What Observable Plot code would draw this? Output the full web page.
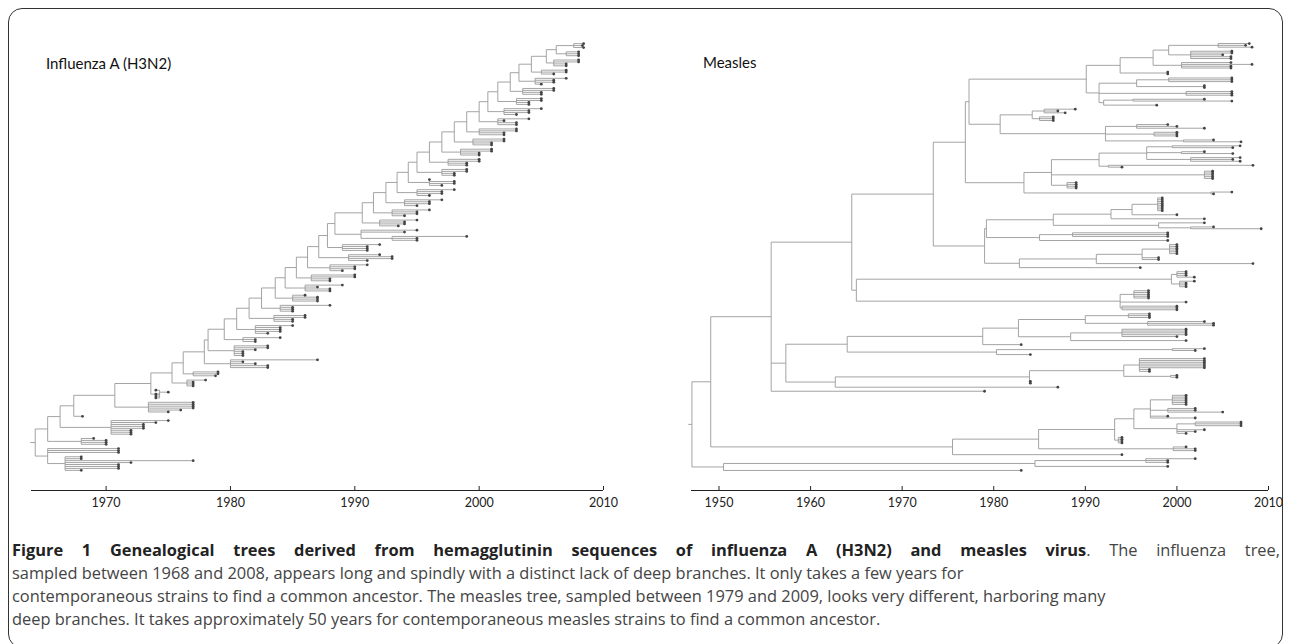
<!DOCTYPE html>
<html>
<head>
<meta charset="utf-8">
<script src="https://cdn.jsdelivr.net/npm/d3@7"></script>
<script src="https://cdn.jsdelivr.net/npm/@observablehq/plot@0.6"></script>
<style>
  body { margin: 0; background: #fff; font-family: "Open Sans", sans-serif; }
  #page { position: relative; width: 1293px; height: 644px; overflow: hidden; }
  #box { position: absolute; left: 8px; top: 8px; width: 1275px; height: 640px; border: 1.5px solid #333; border-radius: 14px; box-sizing: border-box; }
  .panel { position: absolute; top: 0; }
  .title { position: absolute; font-family: Lato, sans-serif; font-size: 15px; color: #111; }
  #caption { position: absolute; left: 12px; top: 538px; width: 1268px; font-size: 16.4px; line-height: 23px; color: #444; }
  #caption div { white-space: nowrap; }
  #caption .first { text-align: justify; text-align-last: justify; white-space: normal; }
  #caption b { color: #222; }
</style>
</head>
<body>
<div id="page">
  <div id="box"></div>
  <div id="left" class="panel" style="left:0"></div>
  <div id="right" class="panel" style="left:650px"></div>
  <div class="title" style="left:46px; top:54px">Influenza A (H3N2)</div>
  <div class="title" style="left:703px; top:53px">Measles</div>
  <div id="caption">
    <div class="first"><b>Figure 1 Genealogical trees derived from hemagglutinin sequences of influenza A (H3N2) and measles virus</b>. The influenza tree,</div>
    <div>sampled between 1968 and 2008, appears long and spindly with a distinct lack of deep branches. It only takes a few years for</div>
    <div>contemporaneous strains to find a common ancestor. The measles tree, sampled between 1979 and 2009, looks very different, harboring many</div>
    <div>deep branches. It takes approximately 50 years for contemporaneous measles strains to find a common ancestor.</div>
  </div>
</div>
<script>
// trees: internal node = [year, ...children], leaf = sampling year

// influenza: trunk node year and the side clade that leaves it
const fluTrunk = [1964.3, 1965.3, 1966.3, 1967.4, 1970.7, 1973.6, 1975.3, 1976.2, 1977.9, 1978.2,
  1979.5, 1980.5, 1981.5, 1982.5, 1983.6, 1984.4, 1985.3, 1986.2, 1987.1, 1987.8,
  1988.4, 1990.6, 1991.5, 1992.5, 1993.4, 1994.3, 1995.0, 1996.0, 1997.0, 1998.0,
  1999.0, 2000.0, 2000.7, 2001.5, 2002.5, 2003.2, 2004.2, 2005.4, 2006.2];
const fluSide = [
  [1965.3, [1966.7, 1968, 1971, 1971, 1971, 1972, 1977, 1968, 1968], 1971, 1971, 1971],
  [1968, 1970, 1970, 1970, 1969],
  [1970.4, 1972, 1972, 1972, 1973, 1973, 1973, 1974, 1975],
  1968.1,
  [1973.4, 1975, 1976, 1977, 1977, 1977, 1977],
  [1974.3, 1974, 1974, 1974, 1975, 1974],
  [1976.5, 1977, 1977, 1977, 1978],
  [1977, 1978.8, 1979, 1979],
  [1980, 1983, 1983, 1982, 1981, 1987],
  [1980.3, 1981, 1981, 1981, 1982, 1983, 1983],
  [1981, 1982, 1982, 1984],
  [1982, 1983, 1984, 1984, 1984, 1985],
  [1983.5, 1985, 1985, 1986, 1986],
  [1984, 1985, 1985, 1985, 1988],
  [1985, 1987, 1987, 1987, 1986],
  [1986, 1988, 1988, 1987, 1989],
  [1986.5, 1988, 1988, 1990, 1990],
  [1988, 1989, 1990, 1990, 1991],
  [1989.5, 1991, 1993, 1993, 1992],
  [1989, 1991, 1991, 1991, 1992],
  [1990.5, [1993, 1995, 1995, 1999], 1994, 1995],
  [1992, 1993.5, 1994, 1994, 1995],
  [1993, 1994, 1995, 1995, 1996],
  [1994, 1995, 1996, 1996, 1997],
  [1995, 1996, 1997, 1997, 1998],
  [1996, 1997, 1998, 1998, 1996],
  [1997, 1998, 1998, 1999, 1999],
  [1997.5, 1999, 1999, 2000, 2000],
  [1998.5, 2000, 2000, 2001, 2001],
  [1999.5, 2001, 2001, 2002, 2002],
  [2000, 2002, 2002, 2003, 2003],
  [2001.5, 2003, 2003, 2002, 2004],
  [2002, 2003, 2004, 2004, 2005],
  [2003, 2004, 2004, 2005, 2005],
  [2003.5, 2005, 2005, 2006, 2006],
  [2004.5, 2005, 2006, 2006, 2007],
  [2005, 2006, 2007, 2007],
  [2006, 2007, 2007, 2008, 2008],
  [2007, 2008, 2008, 2008]
];
const fluTip = [2007.6, 2008.4, 2008.3, 2008.4];

// measles clades, top to bottom
const mTopA = [1990.1,
  [1993.8,
    [1997.4,
      [1999.1, [2004.5, 2007.9, 2007.5, 2008.2], [2001.5, 2006, 2006, 2005, 2005.9, 2005.9]],
      [2000.5, 2005.9, 2008.2, 2005.9, 2005.9]],
    [1999, 1999, 1999]],
  [1991.5,
    [1995.6, [1999.1, 2006, 2006, 2006], [2003, 2003, 2003]],
    [2001, 2006, 2006, 2006],
    [1992, [1995.2, 2003, 2006], 1997.8]]];
const mTopB = [1980.7,
  [1984.2, [1985.5, 1988.9, 1987, 1987.8], [1985, 1986.5, 1986.5, 1986.5]],
  [1992.2, [1995.6, 1999, 2000, 2003], [1997.5, 2000, 2000, 2000], [2000.7, 2004, 2007]]];
const mTopC = [1983.3,
  [1986.3,
    [1991.5,
      [1996.7, [1999.5, 2006.9, 2006.1], [2000.5, 2003, 2006.1], [2001.5, 2006.9, 2006.1, 2006.9]],
      [1992.5, 2008.3, 1994]],
    [1987.2, [2003, 2003.9, 2003.9, 2003.9, 2003.9, 2003.9]],
    [1988, 1989, 1989, 1989, 1989]],
  [2003.7, 2006, 2004]];
const mMid = [1979,
  [1979.2,
    [1986.5,
      [1992.8, [1995.1, [1997.9, 1998.4, 1998.4, 1998.4, 1998.4, 1998.4, 1998.4, 1998.4, 1998.4], 2000], 2003],
      [1998, 2003, [2001.5, 2004, 2009.2]]],
    [1985, [1988.6, 1999, 1999, 1999], 1999]],
  [1982.8,
    [1991.2, [1996.2, [1999.2, 2000, 2000, 2000, 2000, 2000, 2000], 1998, 1998], 2008.3],
    [1991, 1996]]];
const mSide = [1965,
  [1999.4, [2000, 2001, 2001, 2001, 2001.9], [2000.3, 2001.9, 2001, 2001, 2001]],
  [1993.8, [1995.3, 1996.9, 1996.9, 1996.9, 1996.9, 1996.9], 2001, [1994, 2000, 2000, 2000]]];
const mLow = [1957.3,
  [1964,
    [1978.8,
      [1982.7,
        [1990, [1994.7, 1997, 1997, 1997], [1990.6, [1996.8, 2003, 2004, 2004]]],
        [1988.4, [1994, 2001, 2001, 2001, 2001, 2000], 2001]],
      1983],
    [1980.3, [1999.5, 2003, 2002], 1984]],
  [1957.5,
    [1962.7,
      [1983.9,
        [1994.2, [1995.9, 2003, 2003, 2003, 2003, 2003, 2003, 1997, 1997], [1999.3, 2000, 2000]],
        1984, 1984],
      1987]]];
const mLower = [1975.5,
  [1984.9,
    [1993.2,
      [1995.3,
        [1997.1, [1999.5, 2001, 2001, 2001, 2001, 2001, 2001], [1999, 2002, 2002, 2005], 1999, 2002],
        [2000, [2002, 2007, 2007, 2007], 2003, 2002, 2001]],
      [1993.6, 1994, 1994, 1994, 1994]],
    [1999.6, 2001, 2002, 2002]],
  1994];
const mBottom = [1950.5, [1984.5, [1996.6, 2002, 1999, 1999], 1999], 1983];

// build flu ladder from trunk + side clades
function buildLadder() {
  let node = [fluTrunk[fluTrunk.length - 1], fluSide[fluSide.length - 1], fluTip];
  for (let i = fluTrunk.length - 2; i >= 0; i--) node = [fluTrunk[i], fluSide[i], node];
  return node;
}
const fluTree = buildLadder();
const measlesTree = [1947.05,
  [1949.1,
    [1955.7,
      [1964.5, [1973.4, [1976.9, [1977.3, mTopA, mTopB], mTopC], mMid], mSide],
      mLow,
      1979],
    mLower],
  mBottom];

function layout(tree) {
  const links = [], tips = [];
  let pos = 0, lastParent = null;
  function walk(n, parentT, parent) {
    if (typeof n === "number") {
      pos += (lastParent === parent) ? 0.45 : 1;
      lastParent = parent;
      tips.push({t: n, y: pos});
      if (parentT != null) links.push({x1: parentT, x2: n, y1: pos, y2: pos});
      return pos;
    }
    const t = n[0];
    const ys = n.slice(1).map(c => walk(c, t, n));
    const y = (ys[0] + ys[ys.length - 1]) / 2;
    links.push({x1: t, x2: t, y1: ys[0], y2: ys[ys.length - 1]});
    if (parentT != null) links.push({x1: parentT, x2: t, y1: y, y2: y});
    else links.push({x1: t - 0.4, x2: t, y1: y, y2: y});
    return y;
  }
  walk(tree, null, null);
  return {links, tips, max: pos};
}

function draw(tree, el, opts) {
  const {links, tips, max} = layout(tree);
  // upward: first leaf at bottom (flu); downward: first leaf at top (measles)
  const domain = opts.upward ? [0.5, max + 0.5] : [max + 0.5, 0.5];
  const chart = Plot.plot({
    width: opts.width, height: 520,
    marginLeft: opts.ml, marginRight: opts.mr, marginTop: 41, marginBottom: 30, insetBottom: 18,
    x: {domain: opts.domain, label: null},
    y: {domain, axis: null},
    style: {fontFamily: "Lato, sans-serif", fontSize: "12.5px", color: "#222"},
    marks: [
      Plot.link(links, {x1: "x1", x2: "x2", y1: "y1", y2: "y2", stroke: "#9a9a9a", strokeWidth: 0.9}),
      Plot.dot(tips, {x: "t", y: "y", r: 1.4, fill: "#444"}),
      Plot.ruleY([domain[0]], {stroke: "#222", strokeWidth: 1.2, dy: 18}),
      Plot.axisX({ticks: opts.ticks, tickFormat: d => String(d), tickSize: -4, tickPadding: 12, label: null, stroke: "#222"})
    ]
  });
  document.getElementById(el).appendChild(chart);
}

draw(fluTree, "left", {width: 640, ml: 31, mr: 37, domain: [1964, 2010], ticks: [1970, 1980, 1990, 2000, 2010], upward: true});
draw(measlesTree, "right", {width: 643, ml: 41, mr: 25, domain: [1947, 2010], ticks: [1950, 1960, 1970, 1980, 1990, 2000, 2010], upward: false});
</script>
</body>
</html>
